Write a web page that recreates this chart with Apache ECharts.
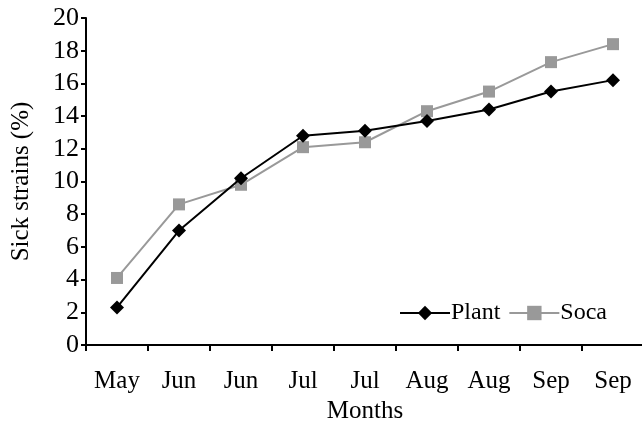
<!DOCTYPE html>
<html>
<head>
<meta charset="utf-8">
<script src="https://cdn.jsdelivr.net/npm/echarts@6/dist/echarts.min.js"></script>
<style>
  html, body { margin: 0; padding: 0; background: #fff; }
  #chart { width: 642px; height: 422px; }
</style>
</head>
<body>
<div id="chart"></div>
<script>
// Sampling months and infection rates (%) for plant and soca crops
const months = ['May', 'Jun', 'Jun', 'Jul', 'Jul', 'Aug', 'Aug', 'Sep', 'Sep'];
const plant = [2.3, 7.0, 10.2, 12.8, 13.1, 13.7, 14.4, 15.5, 16.2];
const soca = [4.1, 8.6, 9.8, 12.1, 12.4, 14.3, 15.5, 17.3, 18.4];
const yTicks = [0, 2, 4, 6, 8, 10, 12, 14, 16, 18, 20];

const serif = '"Liberation Serif", "Times New Roman", serif';
const chart = echarts.init(document.getElementById('chart'), null, { renderer: 'canvas' });

chart.setOption({
  animation: false,
  backgroundColor: '#ffffff',
  textStyle: { fontFamily: serif, color: '#000' },
  grid: {
    left: 86, top: 18, width: 558, bottom: 77,
    containLabel: false,
    outerBoundsMode: 'none'
  },
  legend: {
    right: 30,
    top: 296,
    itemWidth: 50,
    itemHeight: 18,
    itemGap: 8,
    textStyle: { fontFamily: serif, fontSize: 24, color: '#000', padding: [0, 0, 0, -4] },
    data: ['Plant', 'Soca']
  },
  xAxis: {
    type: 'category',
    data: months,
    boundaryGap: true,
    name: 'Months',
    nameLocation: 'middle',
    nameGap: 52,
    nameTextStyle: { fontFamily: serif, fontSize: 25, color: '#000' },
    axisLine: { lineStyle: { color: '#000', width: 2 } },
    axisTick: { show: true, length: 6, inside: false, lineStyle: { color: '#000', width: 2 } },
    axisLabel: { fontFamily: serif, fontSize: 25, color: '#000', margin: 24, interval: 0 },
    splitLine: { show: false }
  },
  yAxis: {
    type: 'value',
    min: yTicks[0],
    max: yTicks[yTicks.length - 1],
    interval: 2,
    name: 'Sick strains (%)',
    nameLocation: 'middle',
    nameGap: 52,
    nameTextStyle: { fontFamily: serif, fontSize: 25, color: '#000' },
    axisLine: { show: true, lineStyle: { color: '#000', width: 2 } },
    axisTick: { show: true, length: 5, inside: false, lineStyle: { color: '#000', width: 2 } },
    axisLabel: { fontFamily: serif, fontSize: 26, color: '#000', margin: 7 },
    splitLine: { show: false }
  },
  series: [
    {
      name: 'Plant',
      type: 'line',
      data: plant,
      symbol: 'diamond',
      symbolSize: 14,
      lineStyle: { color: '#000', width: 2 },
      itemStyle: { color: '#000' },
      z: 3
    },
    {
      name: 'Soca',
      type: 'line',
      data: soca,
      symbol: 'rect',
      symbolSize: 12,
      lineStyle: { color: '#999999', width: 2 },
      itemStyle: { color: '#999999' },
      z: 2
    }
  ]
});
</script>
</body>
</html>
